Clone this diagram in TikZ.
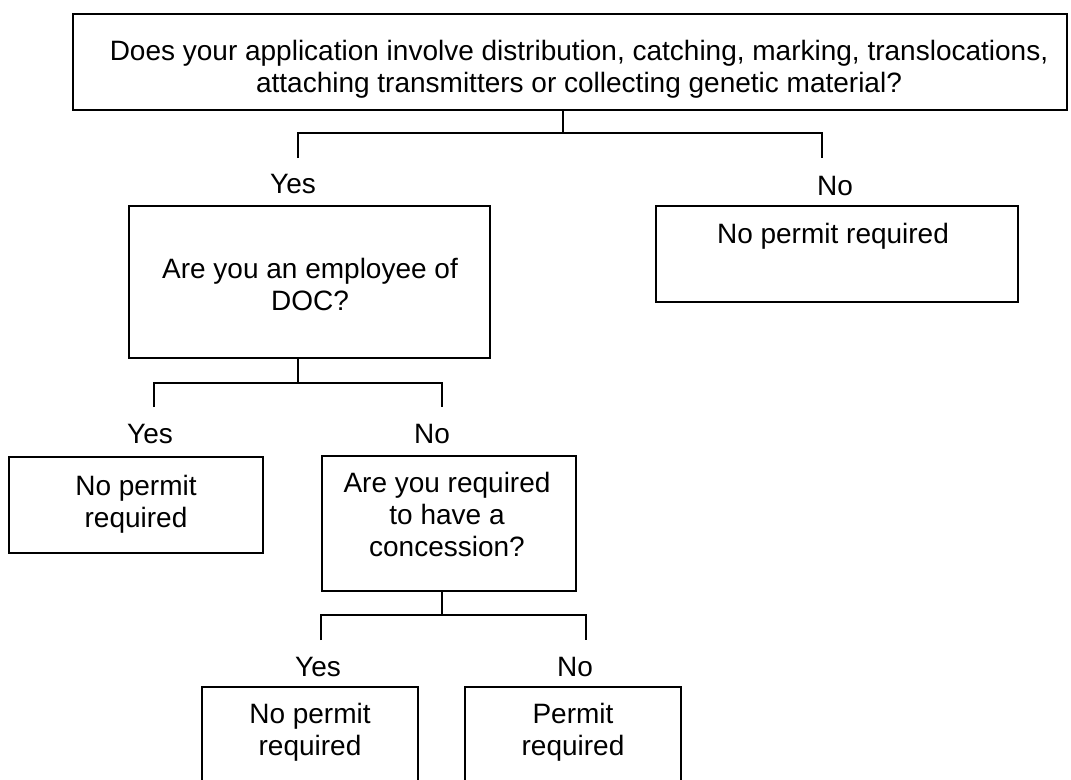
\documentclass[tikz,border=0pt]{standalone}
\usepackage{fontspec}
\setmainfont{Liberation Sans}
\usetikzlibrary{fit}
\begin{document}
\begin{tikzpicture}[x=0.75pt,y=-0.75pt,
  box/.style={draw, line width=1.5pt, inner sep=0pt},
  txt/.style={font=\fontsize{21pt}{24pt}\selectfont, align=center, inner sep=0pt},
  ans/.style={font=\fontsize{21pt}{24pt}\selectfont, inner sep=0pt, anchor=base},
  link/.style={line width=1.5pt}]
\useasboundingbox (0,0) rectangle (1071,779);
\clip (0,0) rectangle (1071,779);
% boxes
\node[box, fit={(73,14) (1067,110)}] (q1) {};
\node[txt, anchor=north] (q1t) at (579,40) {Does your application involve distribution, catching, marking, translocations,\\attaching transmitters or collecting genetic material?};
\node[box, fit={(129,206) (490,358)}] (q2) {};
\node[txt, anchor=north] (q2t) at (310,258) {Are you an employee of\\DOC?};
\node[box, fit={(656,206) (1018,302)}] (r1) {};
\node[txt, anchor=north] (r1t) at (833,223) {No permit required};
\node[box, fit={(9,457) (263,553)}] (r2) {};
\node[txt, anchor=north] (r2t) at (136,475) {No permit\\required};
\node[box, fit={(322,456) (576,591)}] (q3) {};
\node[txt, anchor=north] (q3t) at (447,472) {Are you required\\to have a\\concession?};
\node[box, fit={(202,687) (418,800)}] (r3) {};
\node[txt, anchor=north] (r3t) at (310,703) {No permit\\required};
\node[box, fit={(465,687) (681,800)}] (r4) {};
\node[txt, anchor=north] (r4t) at (573,703) {Permit\\required};
% answer labels
\node[ans] (y1) at (293,193) {Yes};
\node[ans] (n1) at (835,195) {No};
\node[ans] (y2) at (150,443) {Yes};
\node[ans] (n2) at (432,443) {No};
\node[ans] (y3) at (318,676) {Yes};
\node[ans] (n3) at (575,676) {No};
% connectors
\coordinate (j1) at (563,133);
\coordinate (a1) at (298,158);
\coordinate (b1) at (822,158);
\draw[link] (q1.south -| j1) -- (j1);
\draw[link] (a1) |- (j1) -| (b1);
\coordinate (j2) at (298,383);
\coordinate (a2) at (154,407);
\coordinate (b2) at (442,407);
\draw[link] (q2.south -| j2) -- (j2);
\draw[link] (a2) |- (j2) -| (b2);
\coordinate (j3) at (442,615);
\coordinate (a3) at (321,640);
\coordinate (b3) at (586,640);
\draw[link] (q3.south -| j3) -- (j3);
\draw[link] (a3) |- (j3) -| (b3);
\end{tikzpicture}
\end{document}
